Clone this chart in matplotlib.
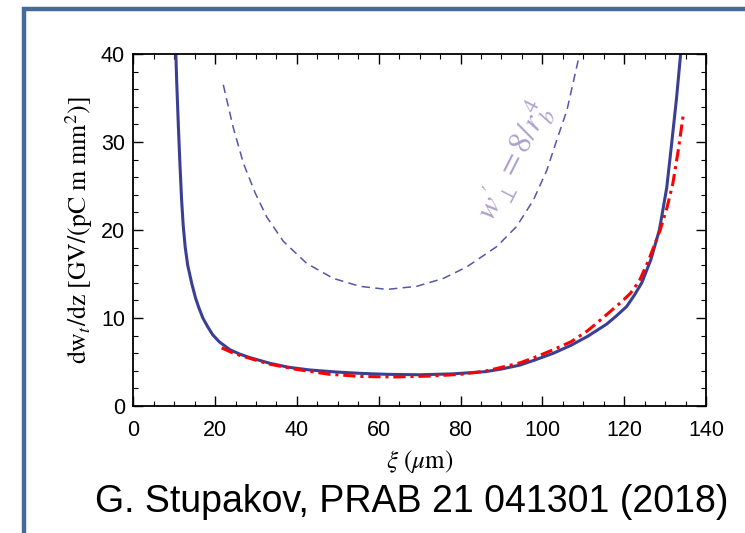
import matplotlib
matplotlib.use("Agg")
import matplotlib.pyplot as plt
from matplotlib.ticker import MultipleLocator
from matplotlib.patches import Rectangle

# --- data ---
xi_full = [10.4, 10.6, 11.0, 11.4, 11.8, 12.2, 12.7, 13.3, 14.3, 15.2, 16.0, 17.0,
           18.2, 19.4, 21.0, 23.6, 26.0, 28.5, 33.4, 38.0, 43.0, 50.0, 56.0, 62.0,
           70.0, 78.0, 86.0, 90.0, 94.5, 98.0, 102.7, 107.0, 111.0, 115.7, 118.0,
           120.6, 122.5, 124.3, 126.5, 128.6, 130.4, 131.6, 132.8, 133.8]
dw_full = [40.0, 37.0, 32.0, 27.5, 23.5, 20.5, 18.0, 16.0, 13.9, 12.3, 11.2, 10.0,
           9.0, 8.1, 7.3, 6.4, 5.9, 5.5, 4.85, 4.4, 4.1, 3.85, 3.7, 3.6,
           3.55, 3.65, 3.9, 4.2, 4.65, 5.2, 6.0, 6.9, 7.9, 9.3, 10.2,
           11.3, 12.6, 14.0, 16.6, 20.0, 24.8, 29.8, 35.0, 40.0]

xi_approx = [21.6, 24.0, 26.1, 30.0, 33.4, 40.0, 48.0, 56.0, 64.0, 72.5, 80.0, 86.0,
             94.5, 98.0, 102.7, 107.0, 110.9, 113.0, 116.0, 119.5, 121.5, 123.7,
             126.0, 128.8, 130.5, 131.9, 133.3, 134.5]
dw_approx = [6.6, 6.1, 5.75, 5.2, 4.75, 4.15, 3.6, 3.35, 3.3, 3.4, 3.6, 3.95,
             4.9, 5.5, 6.4, 7.3, 8.5, 9.3, 10.5, 11.9, 12.8, 14.2,
             16.6, 20.0, 22.6, 25.3, 29.3, 33.3]

xi_rb = [22.0, 24.4, 26.9, 29.8, 32.6, 36.7, 42.4, 48.9, 55.4, 62.0, 69.3, 75.8,
         81.5, 88.8, 93.7, 97.8, 101.1, 103.5, 106.0, 109.1]
dw_rb = [36.5, 31.7, 27.6, 24.2, 21.5, 18.7, 16.2, 14.5, 13.6, 13.25, 13.6, 14.5,
         15.8, 18.1, 20.4, 23.4, 26.8, 30.2, 33.6, 40.0]

plt.rcParams['mathtext.fontset'] = 'stix'
plt.rcParams['font.family'] = ['Liberation Sans', 'DejaVu Sans']

fig = plt.figure(figsize=(7.45, 5.33), dpi=100)
ax = fig.add_axes([133.3 / 745, (533 - 406) / 533, (706 - 133.3) / 745, (406 - 54) / 533])

# slide frame (blue border top/left)
fig.patches.append(Rectangle((24 / 745, -0.1), 1.2, (533 - 8.5) / 533 + 0.1,
                             transform=fig.transFigure, fill=False,
                             edgecolor='#456a99', lw=3.2))

ax.plot(xi_rb, dw_rb, color='#5555aa', lw=1.1, dashes=(5.5, 3.5))
ax.plot(xi_full, dw_full, color='#3b3f94', lw=2.2)
ax.plot(xi_approx, dw_approx, color='#ff0000', lw=2.2, linestyle=(0, (4, 1.6, 1, 1.6)))

ax.text(93.0, 27.8, r"$w^{\prime}_{\perp} = 8/r_b^4$", color='#ada0cc',
        fontsize=23, rotation=63, ha='center', va='center', rotation_mode='anchor')

ax.set_xlim(0, 140)
ax.set_ylim(0, 40)
ax.xaxis.set_major_locator(MultipleLocator(20))
ax.xaxis.set_minor_locator(MultipleLocator(5))
ax.yaxis.set_major_locator(MultipleLocator(10))
ax.yaxis.set_minor_locator(MultipleLocator(2))
ax.tick_params(which='both', direction='in', top=True, right=True, labelsize=15.5)
ax.tick_params(axis='x', pad=10)
ax.tick_params(axis='y', pad=6)
ax.tick_params(which='major', length=7, width=1.0)
ax.tick_params(which='minor', length=3.5, width=0.8)
for s in ax.spines.values():
    s.set_linewidth(1.3)

ax.set_xlabel(r"$\xi\ (\mu\mathrm{m})$", fontsize=18, labelpad=5)
ax.set_ylabel(r"$\mathrm{dw}_t/\mathrm{dz}\ [\mathrm{GV/(pC\ m\ mm}^2)]$", fontsize=18.5,
              labelpad=4)

fig.text(412 / 745, 1 - 502 / 533, "G. Stupakov, PRAB 21 041301 (2018)",
         fontsize=27, ha='center', va='center')

fig.savefig("out.png", dpi=100)
